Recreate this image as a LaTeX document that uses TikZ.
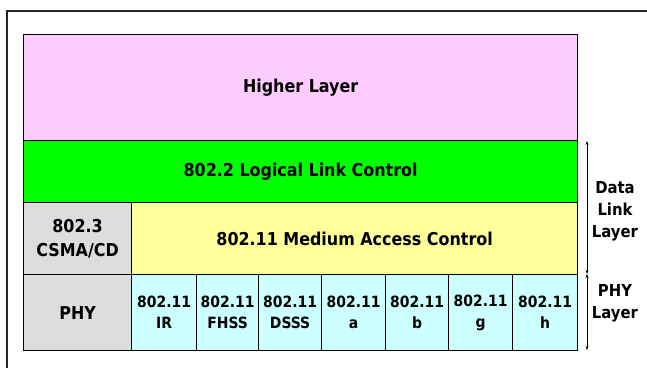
\documentclass[tikz,border=0pt]{standalone}
\usepackage{fontspec}
\setmainfont{DejaVu Sans Condensed}
\usetikzlibrary{arrows.meta}
\definecolor{cpink}{HTML}{FFCCFF}
\definecolor{cgreen}{HTML}{00FF00}
\definecolor{cyellow}{HTML}{FFFF99}
\definecolor{cgray}{HTML}{DDDDDD}
\definecolor{ccyan}{HTML}{CCFFFF}
\tikzset{
  box/.style={draw=black, line width=1.2pt, anchor=north west, inner sep=0pt, align=center, font=\fontsize{17.7}{24}\selectfont\bfseries},
  cell/.style={box, fill=ccyan, font=\fontsize{15.5}{21}\selectfont\bfseries},
  side/.style={font=\fontsize{16.5}{22}\selectfont\bfseries, align=center},
  dim/.style={line width=0.7pt, {Stealth[length=4pt,width=3pt]}-{Stealth[length=4pt,width=3pt]}}
}
\begin{document}
\begin{tikzpicture}[x=1pt,y=-1pt]
\useasboundingbox (0,0) rectangle (647,367);
\draw[line width=2pt, black!85] (6.5,380) -- (6.5,10.5) -- (660,10.5);
\node[box, fill=cpink, minimum width=554pt, minimum height=106pt] (higher) at (23,34) {Higher Layer};
\node[box, fill=cgreen, minimum width=554pt, minimum height=62pt] (llc) at (23,140) {802.2 Logical Link Control};
\node[box, fill=cgray, minimum width=108pt, minimum height=72pt] (csma) at (23,202) {802.3\\CSMA/CD};
\node[box, fill=cyellow, minimum width=446pt, minimum height=72pt] (mac) at (131,202) {802.11 Medium Access Control};
\node[box, fill=cgray, minimum width=108pt, minimum height=76pt] (phy) at (23,274) {PHY};
\node[cell, minimum width=65pt, minimum height=76pt] (ir) at (131,274) {802.11\\IR};
\node[cell, minimum width=62pt, minimum height=76pt] (fhss) at (196,274) {802.11\\FHSS};
\node[cell, minimum width=63pt, minimum height=76pt] (dsss) at (258,274) {802.11\\DSSS};
\node[cell, minimum width=64pt, minimum height=76pt] (a) at (321,274) {802.11\\a};
\node[cell, minimum width=63pt, minimum height=76pt] (b) at (385,274) {802.11\\b};
\node[cell, minimum width=64pt, minimum height=76pt] (g) at (448,274) {802.11\\g};
\node[cell, minimum width=65pt, minimum height=76pt] (h) at (512,274) {802.11\\h};
\coordinate (d1) at (587,141);
\coordinate (d2) at (587,274);
\coordinate (d3) at (587,350);
\draw[dim] (d1) -- (d2);
\draw[dim] (d2) -- (d3);
\node[side] (dll) at (615,211.5) {Data\\Link\\Layer};
\node[side] (phyl) at (615,303.5) {PHY\\Layer};
\end{tikzpicture}
\end{document}
